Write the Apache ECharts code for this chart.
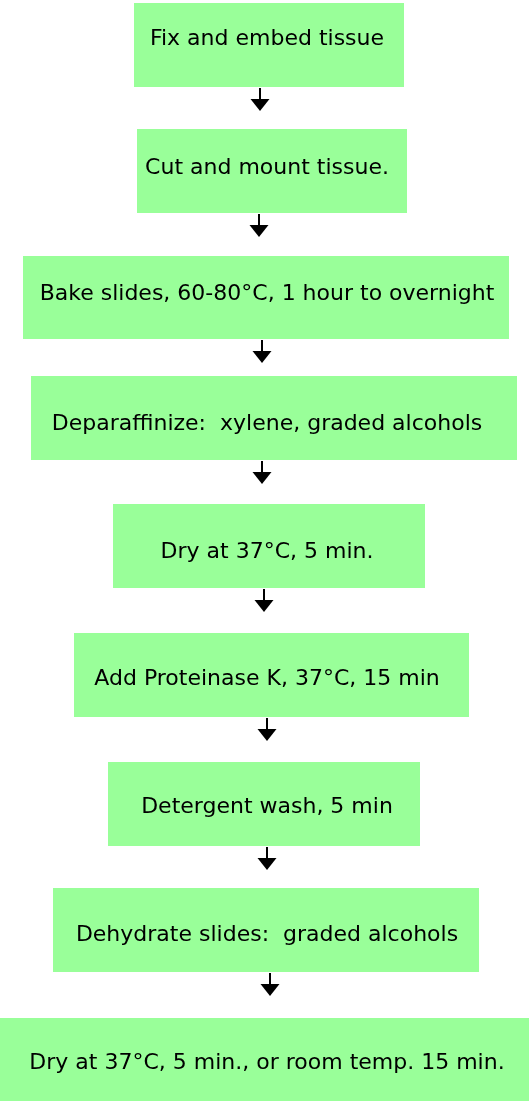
<!DOCTYPE html>
<html>
<head>
<meta charset="utf-8">
<style>
  html, body { margin: 0; padding: 0; background: #ffffff; }
  #chart { width: 529px; height: 1103px; }
</style>
<script src="https://cdn.jsdelivr.net/npm/echarts@6/dist/echarts.min.js"></script>
</head>
<body>
<div id="chart"></div>
<script>
// Flowchart steps (text)
var steps = [
  'Fix and embed tissue',
  'Cut and mount tissue.',
  'Bake slides, 60-80\u00B0C, 1 hour to overnight',
  'Deparaffinize:  xylene, graded alcohols',
  'Dry at 37\u00B0C, 5 min.',
  'Add Proteinase K, 37\u00B0C, 15 min',
  'Detergent wash, 5 min',
  'Dehydrate slides:  graded alcohols',
  'Dry at 37\u00B0C, 5 min., or room temp. 15 min.'
];
// Box extents in the chart's value coordinates (x: 0..529, y: 0..1103 downward)
var boxLeft   = [134, 137, 23, 31, 113, 74, 108, 53, 0];
var boxRight  = [404, 407, 509, 517, 425, 469, 420, 479, 529];
var boxTop    = [3, 129, 256, 376, 504, 633, 762, 888, 1018];
var boxBottom = [87, 213, 339, 460, 588, 717, 846, 972, 1101];
// Text baseline of each step label and common text centre
var labelBaseline = [44, 173, 299, 429, 557, 684, 812, 940, 1068];
var labelCenterX = 267;
// Arrow x positions (between box i and i+1)
var arrowX = [260, 259, 262, 262, 264, 267, 267, 270];

var boxData = steps.map(function (s, i) {
  return [boxLeft[i], boxRight[i], boxTop[i], boxBottom[i], labelCenterX, labelBaseline[i], i];
});
var arrowData = arrowX.map(function (x, i) {
  return [x, boxBottom[i], boxBottom[i] + 24];
});

var chart = echarts.init(document.getElementById('chart'), null, { renderer: 'canvas' });
var FONT = '22px "DejaVu Sans", Verdana, sans-serif';

chart.setOption({
  animation: false,
  backgroundColor: '#ffffff',
  grid: { left: 0, right: 0, top: 0, bottom: 0 },
  xAxis: { type: 'value', min: 0, max: 529, show: false },
  yAxis: { type: 'value', min: 0, max: 1103, inverse: true, show: false },
  series: [
    {
      type: 'custom',
      coordinateSystem: 'cartesian2d',
      encode: { x: [0, 1, 4], y: [2, 3, 5] },
      data: boxData,
      renderItem: function (params, api) {
        var p0 = api.coord([api.value(0), api.value(2)]);
        var p1 = api.coord([api.value(1), api.value(3)]);
        var tp = api.coord([api.value(4), api.value(5)]);
        return {
          type: 'group',
          children: [
            {
              type: 'rect',
              shape: { x: p0[0], y: p0[1], width: p1[0] - p0[0], height: p1[1] - p0[1] },
              style: { fill: '#99ff99' }
            },
            {
              type: 'text',
              style: {
                text: steps[api.value(6)],
                x: tp[0],
                y: tp[1] - 5,
                font: FONT,
                fill: '#000000',
                align: 'center',
                verticalAlign: 'middle'
              }
            }
          ]
        };
      }
    },
    {
      type: 'custom',
      coordinateSystem: 'cartesian2d',
      encode: { x: 0, y: [1, 2] },
      data: arrowData,
      renderItem: function (params, api) {
        var top = api.coord([api.value(0), api.value(1)]);
        var tip = api.coord([api.value(0), api.value(2)]);
        var x = Math.round(top[0]);
        var triH = 12, triW = 19;
        return {
          type: 'group',
          children: [
            {
              type: 'line',
              shape: { x1: x, y1: top[1] + 1, x2: x, y2: tip[1] - triH + 1 },
              style: { stroke: '#000000', lineWidth: 2 }
            },
            {
              type: 'polygon',
              shape: { points: [[x - triW / 2, tip[1] - triH], [x + triW / 2, tip[1] - triH], [x, tip[1]]] },
              style: { fill: '#000000' }
            }
          ]
        };
      }
    }
  ]
});
</script>
</body>
</html>
